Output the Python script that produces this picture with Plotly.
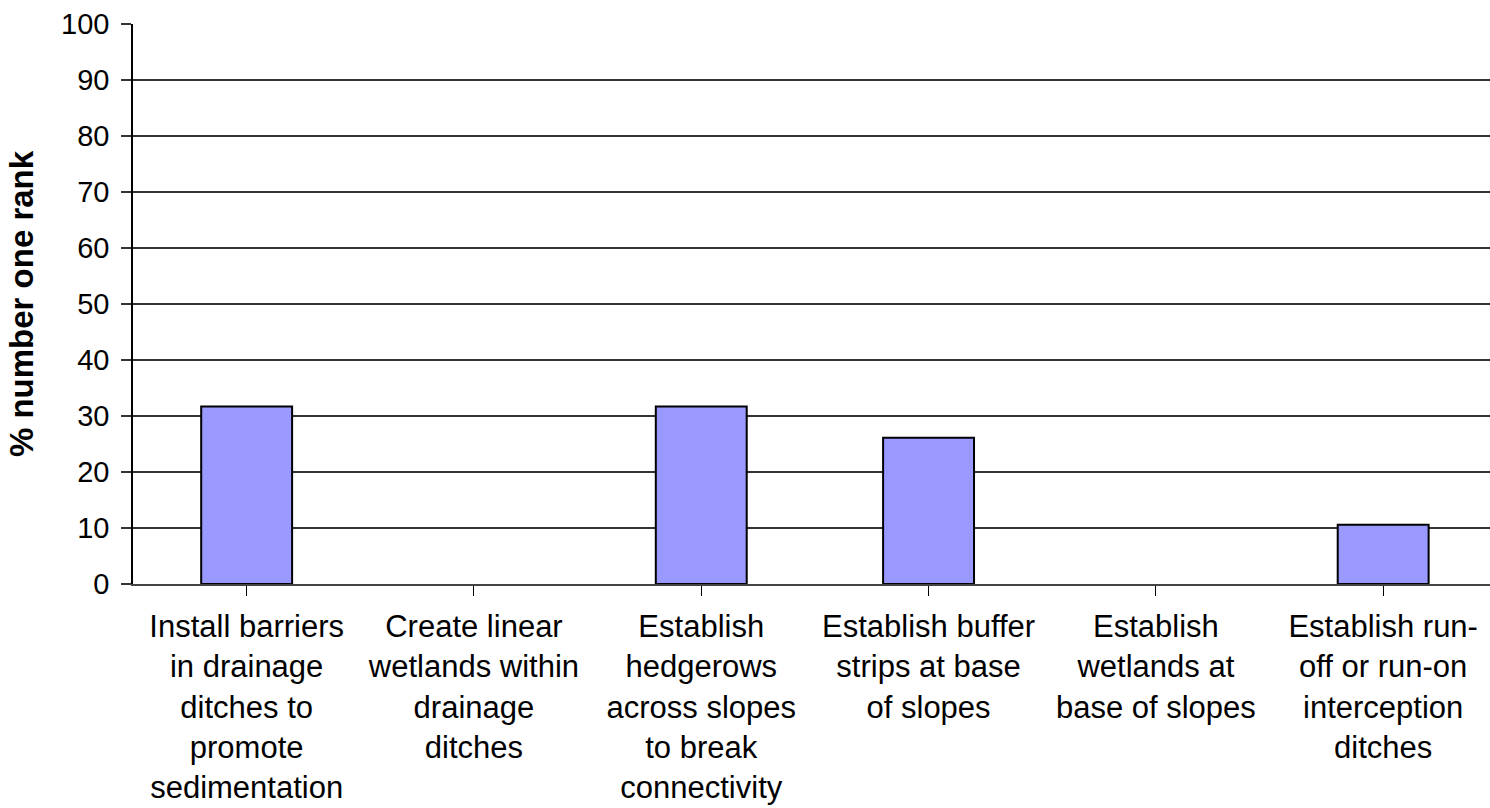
import plotly.graph_objects as go

# Categories (line breaks as they wrap under the axis)
categories = [
    "Install barriers<br>in drainage<br>ditches to<br>promote<br>sedimentation",
    "Create linear<br>wetlands within<br>drainage<br>ditches",
    "Establish<br>hedgerows<br>across slopes<br>to break<br>connectivity",
    "Establish buffer<br>strips at base<br>of slopes",
    "Establish<br>wetlands at<br>base of slopes",
    "Establish run-<br>off or run-on<br>interception<br>ditches",
]
pct_number_one = [31.7, 0, 31.7, 26.1, 0, 10.6]
y_ticks = list(range(0, 101, 10))

FONT = "Liberation Sans, Arial, sans-serif"

# empty categories get no outline so nothing shows at zero
outline_widths = [2 if v > 0 else 0 for v in pct_number_one]

fig = go.Figure(
    go.Bar(
        x=list(range(len(categories))),
        y=pct_number_one,
        width=0.4,
        marker=dict(color="#9999FF", line=dict(color="#000000", width=outline_widths)),
        hoverinfo="skip",
    )
)

fig.update_layout(
    width=1490,
    height=808,
    margin=dict(l=133, r=0, t=24, b=224, autoexpand=False),
    paper_bgcolor="white",
    plot_bgcolor="white",
    showlegend=False,
    font=dict(family=FONT, color="#000000"),
    bargap=0.6,
)

fig.update_xaxes(
    tickmode="array",
    tickvals=list(range(len(categories))),
    ticktext=categories,
    range=[-0.5, 5.47],
    tickson="boundaries",
    ticks="outside",
    ticklen=10,
    tickcolor="#000000",
    tickwidth=1,
    tickfont=dict(size=31, family=FONT, color="#000000"),
    ticklabelstandoff=4,
    tickangle=0,
    showgrid=False,
    showline=True,
    linecolor="#444444",
    linewidth=1.5,
    zeroline=False,
    automargin=False,
)

fig.update_yaxes(
    range=[0, 100],
    tickmode="array",
    tickvals=y_ticks,
    ticks="outside",
    ticklen=10,
    tickcolor="#333333",
    tickwidth=1.5,
    tickfont=dict(size=29, family=FONT, color="#000000"),
    ticklabelstandoff=6,
    showgrid=True,
    gridcolor="#333333",
    gridwidth=1.5,
    showline=True,
    linecolor="#000000",
    linewidth=1.5,
    zeroline=False,
    title=dict(
        text="<b>% number one rank</b>",
        font=dict(size=33, family=FONT, color="#000000"),
        standoff=18,
    ),
    automargin=False,
)

fig.write_html("out.html")
